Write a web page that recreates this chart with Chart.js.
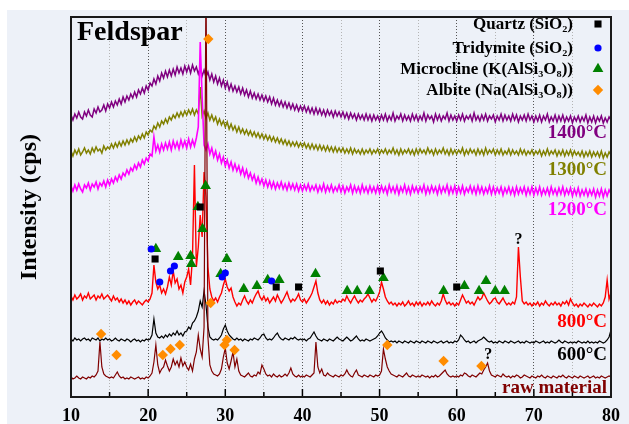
<!DOCTYPE html>
<html><head><meta charset="utf-8">
<script src="https://cdn.jsdelivr.net/npm/chart.js@4"></script>
<style>
html,body{margin:0;padding:0;background:#fff;}
#wrap{position:absolute;left:7px;top:10px;width:622px;height:414px;background:#edf1f8;}
</style></head><body><div id="wrap"><canvas id="c" width="622" height="414"></canvas></div>
<script>
// 2θ grid (degrees)
const TWO_THETA = [
10,10.25,10.5,10.75,11,11.25,11.5,11.75,12,12.25,12.5,12.75,13,13.25,13.5,13.75,14,14.25,14.5,14.75,
15,15.25,15.5,15.75,16,16.25,16.5,16.75,17,17.25,17.5,17.75,18,18.25,18.5,18.75,19,19.25,19.5,19.75,
20,20.25,20.5,20.75,21,21.25,21.5,21.75,22,22.25,22.5,22.75,23,23.25,23.5,23.75,24,24.25,24.5,24.75,
25,25.25,25.5,25.75,26,26.25,26.5,26.75,27,27.25,27.5,27.75,28,28.25,28.5,28.75,29,29.25,29.5,29.75,
30,30.25,30.5,30.75,31,31.25,31.5,31.75,32,32.25,32.5,32.75,33,33.25,33.5,33.75,34,34.25,34.5,34.75,
35,35.25,35.5,35.75,36,36.25,36.5,36.75,37,37.25,37.5,37.75,38,38.25,38.5,38.75,39,39.25,39.5,39.75,
40,40.25,40.5,40.75,41,41.25,41.5,41.75,42,42.25,42.5,42.75,43,43.25,43.5,43.75,44,44.25,44.5,44.75,
45,45.25,45.5,45.75,46,46.25,46.5,46.75,47,47.25,47.5,47.75,48,48.25,48.5,48.75,49,49.25,49.5,49.75,
50,50.25,50.5,50.75,51,51.25,51.5,51.75,52,52.25,52.5,52.75,53,53.25,53.5,53.75,54,54.25,54.5,54.75,
55,55.25,55.5,55.75,56,56.25,56.5,56.75,57,57.25,57.5,57.75,58,58.25,58.5,58.75,59,59.25,59.5,59.75,
60,60.25,60.5,60.75,61,61.25,61.5,61.75,62,62.25,62.5,62.75,63,63.25,63.5,63.75,64,64.25,64.5,64.75,
65,65.25,65.5,65.75,66,66.25,66.5,66.75,67,67.25,67.5,67.75,68,68.25,68.5,68.75,69,69.25,69.5,69.75,
70,70.25,70.5,70.75,71,71.25,71.5,71.75,72,72.25,72.5,72.75,73,73.25,73.5,73.75,74,74.25,74.5,74.75,
75,75.25,75.5,75.75,76,76.25,76.5,76.75,77,77.25,77.5,77.75,78,78.25,78.5,78.75,79,79.25,79.5,79.75,
80];

// Intensities (stacked, arbitrary cps offsets as plotted)
const I_1400 = [
282,277,283,279,285,280,278,285,281,287,282,280,288,284,290,285,287,292,286,293,
289,295,290,296,292,298,293,300,295,301,297,303,299,305,300,307,303,309,304,311,
307,314,311,318,313,321,316,324,319,326,320,327,321,328,322,330,324,329,323,331,
325,331,324,332,326,330,323,329,321,327,320,325,317,323,315,321,313,319,311,317,
309,315,307,313,306,311,305,310,303,309,302,307,300,306,299,304,298,303,297,302,
296,301,295,300,293,299,292,297,291,296,290,295,289,294,288,293,287,292,286,291,
286,291,285,290,284,289,283,289,283,288,282,287,281,287,282,286,280,286,281,285,
280,285,279,284,278,284,279,283,277,283,278,282,277,283,277,282,276,282,277,281,
276,282,277,283,276,281,277,284,276,281,278,283,276,282,277,281,276,283,277,282,
276,281,277,284,276,282,278,281,275,283,277,282,276,281,278,284,276,282,277,281,
276,282,277,283,276,281,278,282,276,284,277,281,276,282,277,283,276,281,278,282,
275,281,277,283,276,282,277,281,276,283,277,282,275,281,277,282,276,283,277,281,
275,281,276,282,275,281,277,283,275,280,276,282,275,281,276,282,275,280,276,281,
274,280,276,281,275,280,276,282,274,280,275,281,274,280,276,281,274,279,275,280,
277];
const I_1300 = [
246,241,247,243,248,242,245,249,244,247,243,249,245,250,246,248,244,251,247,250,
248,253,249,254,250,255,251,256,252,257,253,258,255,260,256,261,258,263,259,265,
262,267,265,271,268,274,270,276,273,278,274,280,277,282,279,284,280,285,281,286,
282,287,283,288,282,287,283,310,281,286,279,284,277,282,276,280,273,278,272,276,
270,275,268,273,267,271,265,270,264,268,263,267,262,266,261,265,260,264,259,263,
258,262,257,261,256,260,255,259,254,258,253,257,252,256,251,255,251,255,250,254,
250,254,249,253,248,253,248,252,247,252,247,251,246,251,246,250,245,250,245,249,
245,249,244,248,244,249,243,248,244,247,243,248,243,247,244,248,243,247,244,248,
243,247,244,248,243,247,244,249,243,247,242,248,243,247,244,248,243,247,242,248,
243,248,244,247,243,249,244,247,242,248,243,247,244,249,243,247,242,248,243,247,
243,247,244,249,242,247,243,248,244,247,242,248,243,247,242,249,243,247,244,248,
242,247,243,248,242,246,243,248,242,247,243,246,242,248,243,247,242,246,243,247,
242,246,243,247,241,246,242,248,242,246,243,247,241,246,242,247,241,246,242,247,
241,246,242,245,241,246,240,245,241,246,240,245,241,245,240,246,239,244,240,245,
242];
const I_1200 = [
211,206,212,207,213,208,205,212,209,214,207,213,210,215,208,214,211,216,210,217,
212,218,214,220,216,222,218,224,221,227,223,229,226,232,228,234,230,237,233,239,
236,243,241,260,246,252,245,253,247,254,248,255,247,256,249,255,248,257,250,256,
249,258,250,257,251,259,270,355,300,252,247,253,243,249,240,246,237,243,234,240,
231,237,229,235,227,233,226,231,223,229,221,227,219,224,217,222,214,220,213,218,
211,217,210,216,209,215,208,214,209,215,208,213,207,214,208,213,207,213,206,212,
206,212,207,213,206,211,207,212,205,211,206,213,205,211,206,212,205,210,206,212,
205,211,204,210,206,212,204,211,205,210,204,212,205,210,204,211,205,210,204,211,
204,211,205,210,203,212,205,210,204,211,203,210,205,212,204,210,203,211,205,210,
204,210,205,212,203,210,204,211,205,210,203,211,204,210,205,212,203,210,204,211,
203,210,204,211,203,209,205,211,204,210,203,211,204,210,203,209,204,211,203,210,
203,209,204,210,202,209,204,210,203,209,202,210,203,209,204,210,202,209,203,210,
202,209,203,210,202,208,203,209,202,210,203,208,202,209,203,210,202,208,203,209,
201,208,202,209,201,207,202,208,201,207,202,208,200,207,201,208,200,207,201,207,
203];
const I_800 = [
101,97,102,98,100,103,97,101,99,104,98,100,102,97,101,99,103,98,100,102,
99,96,101,97,99,95,98,94,97,93,96,92,95,97,93,96,94,92,95,97,
95,98,104,132,115,108,112,104,108,103,110,120,112,126,114,118,108,112,104,115,
120,128,112,140,232,130,150,182,160,225,200,130,108,100,96,99,95,100,104,112,
118,110,106,109,100,95,91,94,92,97,101,96,93,97,94,99,103,106,100,97,
101,96,99,94,97,100,96,102,98,94,97,101,105,99,95,98,96,99,103,97,
95,98,94,97,100,104,110,116,104,97,94,97,93,96,92,95,93,97,94,96,
95,98,96,101,97,94,98,101,97,94,97,95,98,100,103,99,95,98,96,100,
105,115,108,100,96,93,95,92,94,91,94,92,95,91,93,96,92,94,91,95,
92,95,91,94,92,95,92,96,93,91,94,92,96,103,97,93,95,92,94,91,
94,92,97,102,98,94,96,93,95,92,96,100,97,99,104,100,96,93,95,98,
99,95,93,96,99,95,92,94,92,95,93,100,150,120,96,93,95,92,94,91,
94,92,95,91,94,92,96,93,91,94,92,95,92,94,91,95,93,96,92,98,
94,91,93,90,93,91,94,92,90,93,91,94,92,90,93,91,94,100,117,98,
104];
const I_600 = [
58,56,59,57,58,56,58,59,57,58,56,59,58,57,59,56,58,57,59,57,
58,56,57,59,57,56,58,57,56,58,57,55,57,58,56,57,55,57,56,58,
57,58,62,78,64,60,59,61,59,62,60,63,61,64,62,66,62,64,61,65,
66,70,68,74,76,80,86,96,90,106,92,70,60,58,57,58,57,59,62,68,
72,66,62,60,58,57,59,57,58,56,58,57,56,58,57,59,58,57,59,62,
63,59,57,58,57,59,62,64,60,58,57,59,58,57,59,58,60,58,57,58,
57,58,56,58,59,62,65,61,58,57,56,58,57,56,58,57,56,58,60,58,
57,56,58,60,58,56,57,59,61,58,56,57,56,58,57,56,57,58,59,61,
64,66,63,59,57,55,56,55,56,54,56,55,54,56,55,54,56,55,54,56,
55,54,56,55,54,56,55,54,56,55,54,55,56,54,55,56,54,55,54,56,
55,57,62,60,57,55,56,54,55,56,54,56,57,58,60,58,56,55,56,54,
55,54,56,55,54,56,55,54,56,55,54,55,56,54,55,54,56,55,54,55,
54,56,55,54,55,56,54,55,54,56,55,54,55,57,55,54,56,55,54,55,
54,55,54,56,55,54,55,54,56,54,55,54,55,54,56,55,54,55,57,60,
67];
const I_RAW = [
20,18,19,21,19,18,20,19,18,20,19,21,20,22,26,55,30,23,21,20,
19,20,19,22,25,21,19,20,18,19,18,20,19,18,19,20,18,19,18,20,
19,21,24,35,52,32,24,28,30,37,31,26,30,38,32,36,30,39,31,35,
30,27,33,26,38,45,62,48,40,70,420,60,32,26,23,22,21,23,28,40,
49,34,28,36,45,30,38,26,22,21,20,22,24,21,20,22,21,25,23,32,
28,23,21,22,20,23,21,20,22,20,21,23,21,24,29,23,21,20,22,20,
21,20,22,21,20,22,24,55,30,24,28,22,21,24,22,21,20,22,21,20,
22,21,23,27,23,21,20,24,27,22,21,20,22,21,20,22,21,20,22,21,
22,26,48,38,30,26,23,22,21,20,22,21,20,22,24,21,20,22,21,20,
21,20,22,21,20,21,19,21,20,22,20,21,23,25,27,23,21,20,21,20,
21,20,22,21,24,23,21,20,22,21,20,22,24,23,27,30,34,26,22,21,
20,22,21,20,23,21,20,21,19,21,20,22,21,19,20,22,21,20,19,21,
20,19,21,20,22,20,19,21,20,19,21,20,19,21,20,22,20,19,21,20,
19,21,20,19,21,20,19,20,21,19,20,21,19,20,19,21,20,19,20,21,
20];

// Phase markers (2θ, plotted height)
const QUARTZ_X = [20.9, 26.75, 36.6, 39.5, 50.1, 60.0];
const QUARTZ_Y = [138, 190, 110, 110, 126, 110];
const TRIDYMITE_X = [20.4, 21.5, 22.9, 23.4, 29.6, 30.0, 36.0];
const TRIDYMITE_Y = [148, 115, 126, 131, 120, 124, 116];
const MICROCLINE_X = [21.0, 23.9, 25.5, 25.6, 26.45, 27.05, 27.45, 29.4, 30.2, 32.4, 34.1, 35.5, 37.0, 41.7, 45.8, 47.1, 48.7, 50.5, 58.3, 61.0, 62.9, 63.8, 65.0, 66.2];
const MICROCLINE_Y = [148, 140, 141, 133, 190, 168, 211, 123, 138, 108, 111, 117, 117, 123, 106, 106, 106, 119, 106, 111, 106, 116, 106, 106];
const ALBITE_X = [13.9, 15.9, 21.9, 22.9, 24.1, 27.8, 28.1, 29.9, 30.2, 31.2, 51.0, 58.3, 63.2];
const ALBITE_Y = [63, 42, 42, 48, 52, 358, 94, 52, 57, 47, 52, 36, 31];

const X_TICKS = [10, 20, 30, 40, 50, 60, 70, 80];
const LEGEND_TEXT = ['Quartz (SiO\u2082)', 'Tridymite (SiO\u2082)', 'Microcline (K(AlSi\u2083O\u2088))', 'Albite (Na(AlSi\u2083O\u2088))'];
const CURVE_LABELS = ['1400\u00B0C', '1300\u00B0C', '1200\u00B0C', '800\u00B0C', '600\u00B0C', 'raw material'];
const QUESTION_X = [68, 64.1];
const QUESTION_Y = [157, 42];

const SERIF = '"Liberation Serif","Times New Roman",serif';
const toXY = (xs, ys) => xs.map((x, i) => ({x: x, y: ys[i]}));
const curve = (label, ys, color, order, w) => ({
  label, data: toXY(TWO_THETA, ys), showLine: true, borderColor: color, backgroundColor: color,
  borderWidth: w, pointRadius: 0, order
});
const marker = (label, xs, ys, style, color, r) => ({
  label, data: toXY(xs, ys), showLine: false, pointStyle: style, pointRadius: r,
  pointBackgroundColor: color, pointBorderColor: color, pointBorderWidth: 0, order: 0
});

const COLORS = ['#800080', '#808000', '#ff00ff', '#ff0000', '#000000', '#800000'];
const LEG_STYLE = [['rect', '#000000', 5], ['circle', '#0000ff', 3.6], ['triangle', '#008000', 6.2], ['rectRot', '#ff8c00', 5.2]];

const decor = {
  id: 'decor',
  afterDatasetsDraw(chart) {
    const {ctx, chartArea: a, scales: {x}} = chart;
    ctx.save();
    ctx.strokeStyle = '#000'; ctx.lineWidth = 1.5;
    for (let v = 10; v <= 80; v += 5) {
      const px = x.getPixelForValue(v);
      const len = v % 10 === 0 ? 8 : 5;
      ctx.beginPath(); ctx.moveTo(px, a.bottom); ctx.lineTo(px, a.bottom - len); ctx.stroke();
    }
    ctx.lineWidth = 2; ctx.strokeStyle = '#1a1a1a';
    ctx.strokeRect(a.left, a.top, a.right - a.left, a.bottom - a.top);
    ctx.restore();
  },
  afterDraw(chart) {
    const {ctx, chartArea: a, scales: {x, y}} = chart;
    ctx.save();
    ctx.fillStyle = '#000'; ctx.textBaseline = 'middle';
    ctx.font = 'bold 28px ' + SERIF; ctx.textAlign = 'left';
    ctx.fillText('Feldspar', a.left + 6, a.top + 16);
    // legend
    ctx.font = 'bold 17px ' + SERIF; ctx.textAlign = 'right';
    const rows = [7, 31, 52, 73];
    LEGEND_TEXT.forEach((t, i) => {
      ctx.fillStyle = '#000';
      ctx.fillText(t, a.right - 38, a.top + rows[i] + 1);
      const [st, col, r] = LEG_STYLE[i];
      ctx.fillStyle = col;
      Chart.helpers.drawPoint(ctx, {pointStyle: st, radius: r, borderWidth: 0, rotation: 0}, a.right - 13, a.top + rows[i]);
    });
    // curve labels
    ctx.font = 'bold 19px ' + SERIF; ctx.textAlign = 'right';
    const ly = [116, 153, 193, 305, 338, 371];
    CURVE_LABELS.forEach((t, i) => {
      ctx.fillStyle = COLORS[i];
      ctx.fillText(t, a.right - 4, a.top + ly[i]);
    });
    // question marks
    ctx.font = 'bold 16px ' + SERIF; ctx.textAlign = 'center'; ctx.fillStyle = '#000';
    QUESTION_X.forEach((qx, i) => ctx.fillText('?', x.getPixelForValue(qx), y.getPixelForValue(QUESTION_Y[i])));
    ctx.restore();
  }
};

new Chart(document.getElementById('c'), {
  type: 'scatter',
  data: {
    datasets: [
      marker('Quartz', QUARTZ_X, QUARTZ_Y, 'rect', '#000000', 5),
      marker('Tridymite', TRIDYMITE_X, TRIDYMITE_Y, 'circle', '#0000ff', 3.6),
      marker('Microcline', MICROCLINE_X, MICROCLINE_Y, 'triangle', '#008000', 6.2),
      marker('Albite', ALBITE_X, ALBITE_Y, 'rectRot', '#ff8c00', 5.2),
      curve('raw material', I_RAW, COLORS[5], 1, 1.2),
      curve('600°C', I_600, COLORS[4], 2, 1.2),
      curve('800°C', I_800, COLORS[3], 3, 1.4),
      curve('1200°C', I_1200, COLORS[2], 4, 1.6),
      curve('1300°C', I_1300, COLORS[1], 5, 1.5),
      curve('1400°C', I_1400, COLORS[0], 6, 1.5)
    ]
  },
  options: {
    responsive: false, animation: false,
    layout: {padding: {left: 0, top: 7, right: 13, bottom: 0}},
    plugins: {legend: {display: false}, tooltip: {enabled: false}},
    scales: {
      x: {
        type: 'linear', min: 10, max: 80,
        afterFit: s => { s.height = 27; },
        ticks: {stepSize: 5, autoSkip: false, maxRotation: 0, padding: 9, color: '#000',
          font: {family: SERIF, size: 18, weight: 'bold'},
          callback: v => X_TICKS.includes(v) ? String(v) : ''},
        grid: {drawTicks: false, lineWidth: 1,
          color: c => (c.tick && c.tick.value % 10 === 0) ? '#555' : '#b4b4b4'},
        border: {display: true, color: '#000', width: 2, dash: [1, 2]}
      },
      y: {
        min: 0, max: 380,
        afterFit: s => { s.width = 64; },
        ticks: {display: false},
        grid: {display: false, drawTicks: false},
        border: {display: true, color: '#000', width: 2},
        title: {display: true, text: 'Intensity (cps)', color: '#000',
          font: {family: SERIF, size: 24, weight: 'bold'}, padding: {top: 8, bottom: 0}}
      }
    }
  },
  plugins: [decor]
});
</script></body></html>
